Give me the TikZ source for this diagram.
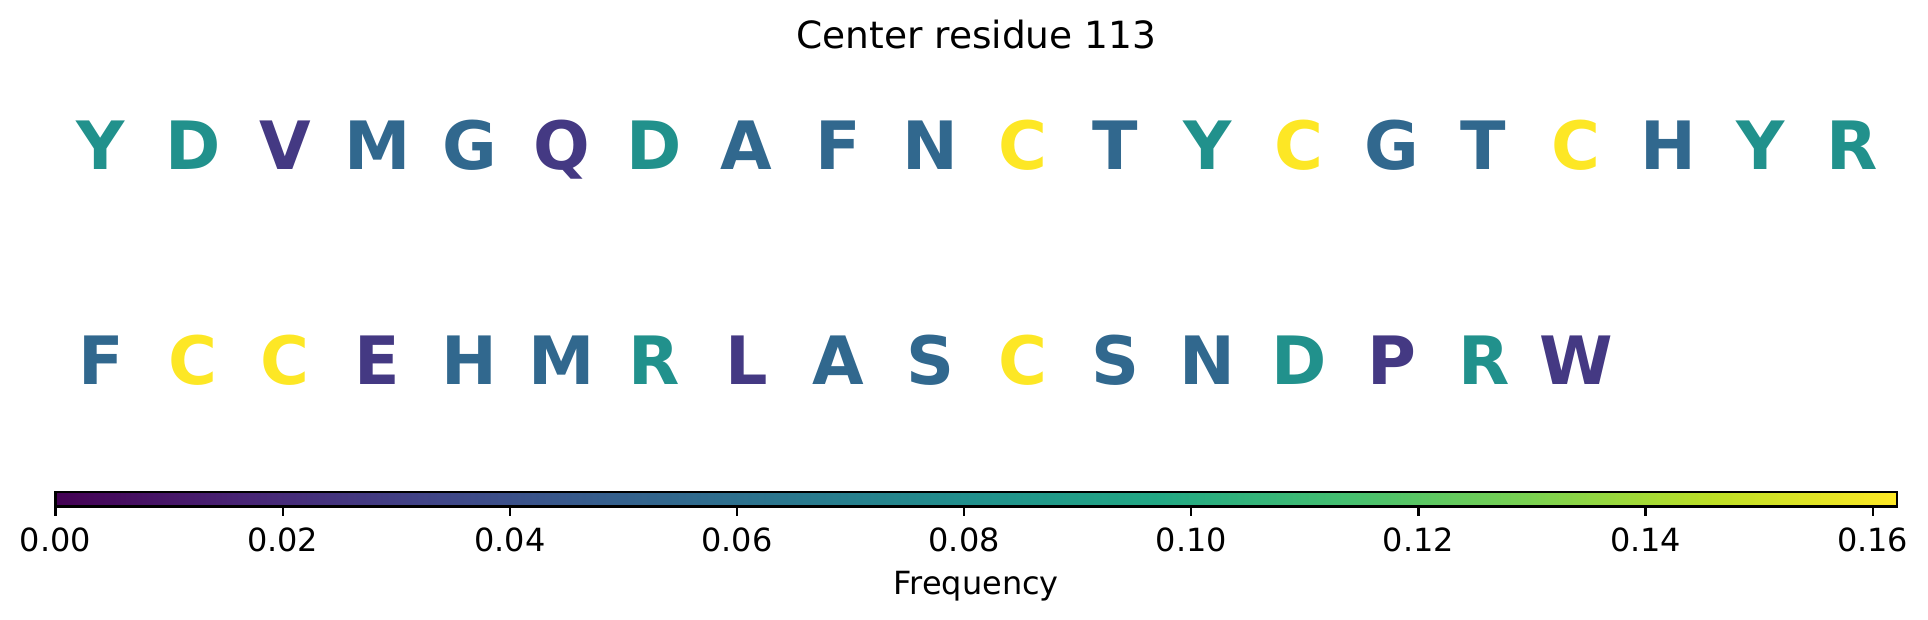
\documentclass[tikz,border=0pt]{standalone}
\usepackage{fontspec}
\setmainfont{DejaVu Sans}
\usetikzlibrary{positioning}
\definecolor{vir1}{HTML}{443983}
\definecolor{vir2}{HTML}{31688E}
\definecolor{vir3}{HTML}{21918C}
\definecolor{vir6}{HTML}{FDE725}
\pgfdeclarehorizontalshading{viridis}{100bp}{%
rgb(0bp)=(0.267,0.005,0.329);
rgb(25bp)=(0.267,0.005,0.329);
rgb(30bp)=(0.283,0.141,0.458);
rgb(35bp)=(0.254,0.265,0.530);
rgb(40bp)=(0.207,0.372,0.553);
rgb(45bp)=(0.164,0.471,0.558);
rgb(50bp)=(0.128,0.567,0.551);
rgb(55bp)=(0.135,0.659,0.518);
rgb(60bp)=(0.267,0.749,0.440);
rgb(65bp)=(0.478,0.821,0.318);
rgb(70bp)=(0.741,0.873,0.150);
rgb(75bp)=(0.993,0.906,0.144);
rgb(100bp)=(0.993,0.906,0.144)}
\begin{document}
\begin{tikzpicture}[x=0.36pt,y=-0.36pt,
res/.style={%
font=\fontsize{24}{28}\selectfont\bfseries,
inner sep=0pt,
anchor=base
},
tick/.style={%
font=\fontsize{11.5}{14}\selectfont,
inner sep=0pt,
anchor=base
},
]
\useasboundingbox (0,0) rectangle (1928,619);
%% Title
\node[tick,font=\fontsize{13.5}{16}\selectfont](title)at(976.25,48){Center residue 113};
%% Row 1
\node[res,vir3](a1)at(101,169.5){Y};
\node[res,vir3](a2)at(193.2,169.5){D};
\node[res,vir1](a3)at(285.4,169.5){V};
\node[res,vir2](a4)at(377.5,169.5){M};
\node[res,vir2](a5)at(469.7,169.5){G};
\node[res,vir1](a6)at(561.9,169.5){Q};
\node[res,vir3](a7)at(654.1,169.5){D};
\node[res,vir2](a8)at(746.3,169.5){A};
\node[res,vir2](a9)at(838.4,169.5){F};
\node[res,vir2](a10)at(930.6,169.5){N};
\node[res,vir6](a11)at(1022.8,169.5){C};
\node[res,vir2](a12)at(1115,169.5){T};
\node[res,vir3](a13)at(1207.2,169.5){Y};
\node[res,vir6](a14)at(1299.3,169.5){C};
\node[res,vir2](a15)at(1391.5,169.5){G};
\node[res,vir2](a16)at(1483.7,169.5){T};
\node[res,vir6](a17)at(1575.9,169.5){C};
\node[res,vir2](a18)at(1668.1,169.5){H};
\node[res,vir3](a19)at(1760.2,169.5){Y};
\node[res,vir3](a20)at(1852.4,169.5){R};
%% Row 2
\node[res,vir2](b1)at(101,384.5){F};
\node[res,vir6](b2)at(193.2,384.5){C};
\node[res,vir6](b3)at(285.4,384.5){C};
\node[res,vir1](b4)at(377.5,384.5){E};
\node[res,vir2](b5)at(469.7,384.5){H};
\node[res,vir2](b6)at(561.9,384.5){M};
\node[res,vir3](b7)at(654.1,384.5){R};
\node[res,vir1](b8)at(746.3,384.5){L};
\node[res,vir2](b9)at(838.4,384.5){A};
\node[res,vir2](b10)at(930.6,384.5){S};
\node[res,vir6](b11)at(1022.8,384.5){C};
\node[res,vir2](b12)at(1115,384.5){S};
\node[res,vir2](b13)at(1207.2,384.5){N};
\node[res,vir3](b14)at(1299.3,384.5){D};
\node[res,vir1](b15)at(1391.5,384.5){P};
\node[res,vir3](b16)at(1483.7,384.5){R};
\node[res,vir1](b17)at(1575.9,384.5){W};
%% Colorbar
\shadedraw[shading=viridis,line width=0.8pt](55.5,491.8)rectangle(1897.2,506.6);
\draw[line width=0.8pt](55.5,506.6)--++(0,9.7);
\draw[line width=0.8pt](282.65,506.6)--++(0,9.7);
\draw[line width=0.8pt](509.8,506.6)--++(0,9.7);
\draw[line width=0.8pt](736.95,506.6)--++(0,9.7);
\draw[line width=0.8pt](964.1,506.6)--++(0,9.7);
\draw[line width=0.8pt](1191.25,506.6)--++(0,9.7);
\draw[line width=0.8pt](1418.4,506.6)--++(0,9.7);
\draw[line width=0.8pt](1645.55,506.6)--++(0,9.7);
\draw[line width=0.8pt](1872.7,506.6)--++(0,9.7);
%% Ticks
\node[tick](t0)at(55.5,551){0.00};
\node[tick](t1)at(282.65,551){0.02};
\node[tick](t2)at(509.8,551){0.04};
\node[tick](t3)at(736.95,551){0.06};
\node[tick](t4)at(964.1,551){0.08};
\node[tick](t5)at(1191.25,551){0.10};
\node[tick](t6)at(1418.4,551){0.12};
\node[tick](t7)at(1645.55,551){0.14};
\node[tick](t8)at(1872.7,551){0.16};
\node[tick](freq)at(976.25,594){Frequency};
\end{tikzpicture}
\end{document}
